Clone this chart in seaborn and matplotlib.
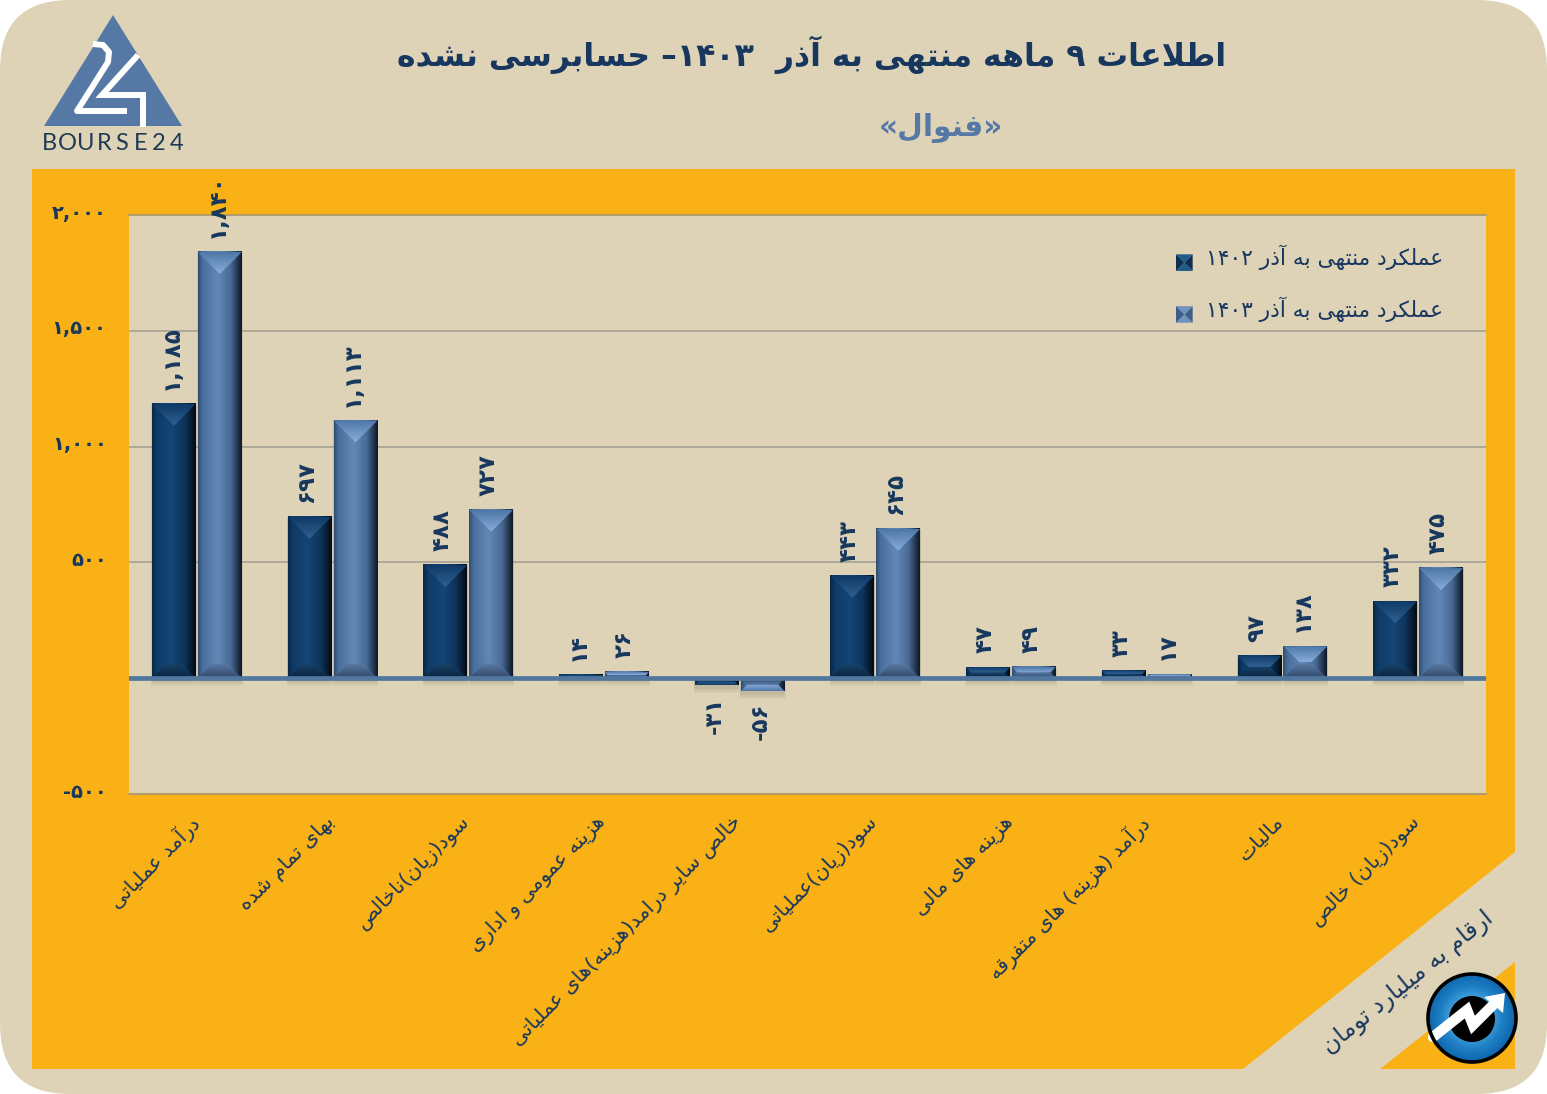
import numpy as np
import pandas as pd
import matplotlib
matplotlib.use('Agg')
import matplotlib.pyplot as plt
import matplotlib.patches as mpatches
from matplotlib.colors import LinearSegmentedColormap
from matplotlib.legend_handler import HandlerBase
from matplotlib.transforms import ScaledTranslation
import seaborn as sns

# Data
categories = ['درآمد عملیاتی', 'بهای تمام شده', 'سود(زیان)ناخالص', 'هزینه عمومی و اداری',
              'خالص سایر درامد(هزینه)های عملیاتی', 'سود(زیان)عملیاتی', 'هزینه های مالی',
              'درآمد (هزینه) های متفرقه', 'مالیات', 'سود(زیان) خالص']
values_1402 = [1185, 697, 488, 14, -31, 443, 47, 33, 97, 332]
values_1403 = [1840, 1113, 727, 26, -56, 645, 49, 17, 138, 475]
series_names = ['عملکرد منتهی به آذر ۱۴۰۲', 'عملکرد منتهی به آذر ۱۴۰۳']
y_ticks = [-500, 0, 500, 1000, 1500, 2000]
title = 'اطلاعات ۹ ماهه منتهی به آذر  ۱۴۰۳– حسابرسی نشده'
subtitle = '«فنوال»'
unit_note = 'ارقام به میلیارد تومان'

BEIGE = '#dfd3b7'
ORANGE = '#f9b116'
NAVY = '#17375e'
BLUE = '#5578a5'

# matplotlib has no arabic shaping, so map the letters to presentation forms
FORMS = {
    'ا': (0xFE8D, 0xFE8E), 'آ': (0xFE81, 0xFE82), 'د': (0xFEA9, 0xFEAA), 'ذ': (0xFEAB, 0xFEAC),
    'ر': (0xFEAD, 0xFEAE), 'ز': (0xFEAF, 0xFEB0), 'ژ': (0xFB8A, 0xFB8B), 'و': (0xFEED, 0xFEEE),
    'ب': (0xFE8F, 0xFE90, 0xFE91, 0xFE92), 'پ': (0xFB56, 0xFB57, 0xFB58, 0xFB59),
    'ت': (0xFE95, 0xFE96, 0xFE97, 0xFE98), 'ج': (0xFE9D, 0xFE9E, 0xFE9F, 0xFEA0),
    'ح': (0xFEA1, 0xFEA2, 0xFEA3, 0xFEA4), 'خ': (0xFEA5, 0xFEA6, 0xFEA7, 0xFEA8),
    'س': (0xFEB1, 0xFEB2, 0xFEB3, 0xFEB4), 'ش': (0xFEB5, 0xFEB6, 0xFEB7, 0xFEB8),
    'ص': (0xFEB9, 0xFEBA, 0xFEBB, 0xFEBC), 'ط': (0xFEC1, 0xFEC2, 0xFEC3, 0xFEC4),
    'ع': (0xFEC9, 0xFECA, 0xFECB, 0xFECC), 'ف': (0xFED1, 0xFED2, 0xFED3, 0xFED4),
    'ق': (0xFED5, 0xFED6, 0xFED7, 0xFED8), 'ک': (0xFB8E, 0xFB8F, 0xFB90, 0xFB91),
    'ل': (0xFEDD, 0xFEDE, 0xFEDF, 0xFEE0), 'م': (0xFEE1, 0xFEE2, 0xFEE3, 0xFEE4),
    'ن': (0xFEE5, 0xFEE6, 0xFEE7, 0xFEE8), 'ه': (0xFEE9, 0xFEEA, 0xFEEB, 0xFEEC),
    'ی': (0xFBFC, 0xFBFD, 0xFBFE, 0xFBFF),
}
MIRROR = str.maketrans('()«»', ')(»«')
DIGITS = '۰۱۲۳۴۵۶۷۸۹'


def shape(text):
    text = text.replace('لا', '\uFFF0')
    out = []
    for i, ch in enumerate(text):
        prev = text[i - 1] if i else ''
        nxt = text[i + 1] if i + 1 < len(text) else ''
        joins_prev = prev in FORMS and len(FORMS[prev]) == 4
        if ch == '\uFFF0':
            out.append(chr(0xFEFC if joins_prev else 0xFEFB))
        elif ch in FORMS:
            f = FORMS[ch]
            joins_next = len(f) == 4 and (nxt in FORMS or nxt == '\uFFF0')
            if len(f) == 2:
                out.append(chr(f[1] if joins_prev else f[0]))
            elif joins_prev and joins_next:
                out.append(chr(f[3]))
            elif joins_prev:
                out.append(chr(f[1]))
            elif joins_next:
                out.append(chr(f[2]))
            else:
                out.append(chr(f[0]))
        else:
            out.append(ch)
    # visual order: everything reversed, digit runs put back
    res = []
    run = ''
    for ch in reversed(out):
        if ch in DIGITS:
            run = ch + run
        else:
            res.append(run)
            run = ''
            res.append(ch)
    res.append(run)
    return ''.join(res).translate(MIRROR)


def fa_num(v):
    s = f'{v:,}'
    return ''.join(DIGITS[int(c)] if c.isdigit() else c for c in s)


sns.set_theme(style='white')
plt.rcParams['font.family'] = ['DejaVu Sans']

W, H = 1547, 1094
fig = plt.figure(figsize=(W / 100, H / 100), dpi=100, facecolor='white')

# panel behind the chart, in pixel coordinates
bg = fig.add_axes([0, 0, 1, 1], zorder=0)
bg.set_xlim(0, W)
bg.set_ylim(H, 0)
bg.axis('off')
bg.add_patch(mpatches.FancyBboxPatch((70, 70), W - 140, H - 140, boxstyle='round,pad=70,rounding_size=70',
                                     fc=BEIGE, ec='none'))
bg.add_patch(mpatches.Polygon([(32, 169), (1515, 169), (1515, 852), (1243, 1069), (32, 1069)], fc=ORANGE, ec='none'))
bg.add_patch(mpatches.Polygon([(1515, 962), (1515, 1069), (1380, 1069)], fc=ORANGE, ec='none'))

# main chart
df = pd.DataFrame({
    'category': categories * 2,
    'value': values_1402 + values_1403,
    'series': [series_names[0]] * len(categories) + [series_names[1]] * len(categories),
})
ax = fig.add_axes([129 / W, 1 - 794 / H, (1486 - 129) / W, (794 - 215) / H], zorder=2)
ax.set_facecolor(BEIGE)
sns.barplot(data=df, x='category', y='value', hue='series', order=categories, hue_order=series_names,
            palette=['#123a66', '#5a7ea9'], width=0.677, gap=0.043, legend=False, saturation=1, ax=ax, zorder=3,
            errorbar=None, linewidth=0, edgecolor='none')
ax.set_xlim(-0.5, 9.5)
ax.set_ylim(-500, 2000)
ax.set_xlabel('')
ax.set_ylabel('')
ax.set_yticks(y_ticks)
ax.set_yticklabels([fa_num(v) if v != 0 else '' for v in y_ticks], fontsize=14, fontweight='bold', color=NAVY)
ax.tick_params(axis='y', length=0, pad=16)
for lab in ax.get_yticklabels():
    lab.set_transform(lab.get_transform() + ScaledTranslation(0, 4 / 100, fig.dpi_scale_trans))
ax.set_xticks(range(len(categories)))
ax.set_xticklabels([shape(c) for c in categories], rotation=45, ha='right', va='top', rotation_mode='anchor',
                   fontsize=14.7, color=NAVY)
ax.tick_params(axis='x', length=0, pad=13)
for lab in ax.get_xticklabels():
    lab.set_transform(lab.get_transform() + ScaledTranslation(-8 / 100, 0, fig.dpi_scale_trans))
ax.yaxis.grid(True, color='#a9a496', lw=1.3, zorder=1)
ax.set_axisbelow(True)
sns.despine(ax=ax, left=True, right=True, top=True, bottom=True)
ax.axhline(0, color='#52779f', lw=3.4, zorder=4)
ax.axhline(2000, color='#b39c6b', lw=1.5, zorder=1, clip_on=False)
ax.axhline(-500, color='#b39c6b', lw=1.5, zorder=1, clip_on=False)

# gradient + bevel for the bars, on top of the bars seaborn made
bar_styles = [
    dict(stops=['#0a2746', '#0f3a66', '#134676', '#0e3359', '#040b14'],
         outer=['#0f3a68', '#2f6191'], base=['#0a2440', '#184268']),
    dict(stops=['#2f4e75', '#4a6f9d', '#6388b6', '#486a95', '#0f1926'],
         outer=['#4f78a8', '#88acda'], base=['#32486a', '#5a7ca6']),
]
STOP_POS = [0, 0.1, 0.45, 0.75, 1]
bars = [p for p in ax.patches if p.get_width() > 0]
n = len(categories)
px_per_y = (794 - 215) / 2500
px_per_x = (1486 - 129) / 10


def chevron(x0, w, y_edge, y_inner, depth_x, colors):
    # bevel facet of a bar, shaded from its outer edge inwards
    poly = mpatches.Polygon([(x0, y_edge), (x0 + w, y_edge), (x0 + w - depth_x, y_inner), (x0 + depth_x, y_inner)],
                            transform=ax.transData)
    t = np.linspace(0, 1, 30) if y_edge > y_inner else np.linspace(1, 0, 30)
    cm = LinearSegmentedColormap.from_list('f', colors)
    im = ax.imshow(t[:, None], extent=(x0, x0 + w, min(y_edge, y_inner), max(y_edge, y_inner)), aspect='auto',
                   cmap=cm, vmin=0, vmax=1, zorder=3.4, origin='upper')
    im.set_clip_path(poly)


for i, bar in enumerate(bars):
    st = bar_styles[0 if i < n else 1]
    x0, w = bar.get_x(), bar.get_width()
    y0, h = bar.get_y(), bar.get_height()
    y_top, y_bot = max(y0, y0 + h), min(y0, y0 + h)
    hh = y_top - y_bot
    # soft shadow under and beside the bar
    for pad_x, pad_y, alpha in [(0.012, 32, 0.05), (0.009, 24, 0.07), (0.006, 16, 0.09)]:
        ax.add_patch(mpatches.Rectangle((x0 - pad_x * 0.4, y_bot - pad_y), w + pad_x, hh + pad_y, fc='#55503f',
                                        alpha=alpha, ec='none', zorder=2.6))
    cmap = LinearSegmentedColormap.from_list('b', list(zip(STOP_POS, st['stops'])))
    ax.imshow(np.linspace(0, 1, 80)[None, :], extent=(x0, x0 + w, y_bot, y_top), aspect='auto', cmap=cmap,
              zorder=3.2, vmin=0, vmax=1)
    w_px = w * px_per_x
    h_px = hh * px_per_y
    outer_px = min(w_px * 0.5, h_px * 0.5)
    base_px = min(w_px * 0.33, h_px * 0.5)
    outer_y, base_y = (y_top, y_bot) if y0 + h >= 0 and h >= 0 else (y_bot, y_top)
    sign = -1 if outer_y == y_top else 1
    chevron(x0, w, outer_y, outer_y + sign * outer_px / px_per_y, outer_px / px_per_x, st['outer'])
    chevron(x0, w, base_y, base_y - sign * base_px / px_per_y, base_px / px_per_x, st['base'])

ax.set_xlim(-0.5, 9.5)
ax.set_ylim(-500, 2000)

# value labels
all_values = values_1402 + values_1403
for i, bar in enumerate(bars):
    v = all_values[i]
    xc = bar.get_x() + bar.get_width() / 2
    up = v >= 0
    ax.annotate(fa_num(v), (xc, v), xytext=(-2, 10 if up else -8), textcoords='offset points',
                rotation=90, ha='center', va='bottom' if up else 'top', fontsize=16.5, fontweight='bold', color=NAVY,
                annotation_clip=False, zorder=6)


# legend with small bevelled squares
class BevelHandler(HandlerBase):
    def __init__(self, dark, light):
        super().__init__()
        self.dark, self.light = dark, light

    def create_artists(self, legend, orig, xd, yd, w, h, fs, trans):
        x0, y0 = -xd, -yd - 4
        s = 12
        c = (x0 + s / 2, y0 + s / 2)
        a, b, cc, d = (x0, y0), (x0 + s, y0), (x0 + s, y0 + s), (x0, y0 + s)
        return [
            mpatches.Polygon([a, b, c], fc=self.light, ec='none', transform=trans),
            mpatches.Polygon([b, cc, c], fc=self.dark, ec='none', transform=trans),
            mpatches.Polygon([cc, d, c], fc=self.light, ec='none', transform=trans),
            mpatches.Polygon([d, a, c], fc=self.dark, ec='none', transform=trans),
        ]


h1 = mpatches.Patch(label=shape(series_names[0]))
h2 = mpatches.Patch(label=shape(series_names[1]))
ax.legend(handles=[h1, h2], loc='upper left', bbox_to_anchor=((1176 - 129) / 1357, (794 - 245) / 579), frameon=False,
          prop=dict(size=15.7), labelcolor=NAVY, labelspacing=1.21, handlelength=0.76, handletextpad=0.6, borderpad=0,
          borderaxespad=0,
          handler_map={h1: BevelHandler('#0e2f52', '#1f5c8c'), h2: BevelHandler('#3c5f8a', '#6f93be')})

# titles and footnote on a top overlay, also pixel coordinates
top = fig.add_axes([0, 0, 1, 1], zorder=5)
top.set_xlim(0, W)
top.set_ylim(H, 0)
top.axis('off')
top.text(812, 55, shape(title), ha='center', va='center', fontsize=22.7, fontweight='bold', color=NAVY)
top.text(941, 128, shape(subtitle), ha='center', va='center', fontsize=21.3, fontweight='bold', color=BLUE)
top.text(1408, 983, shape(unit_note), ha='center', va='center', rotation=39, rotation_mode='anchor', fontsize=17,
         color=NAVY)

# logo
top.add_patch(mpatches.Polygon([(113, 15), (182, 126), (44, 126)], fc=BLUE, ec='none'))
top.plot([93, 103, 109, 108, 77, 127], [44, 45, 52, 62, 111, 111], color='white', lw=4.3, solid_joinstyle='round',
         solid_capstyle='butt')
top.plot([138, 102, 143, 143], [55, 95, 95, 127], color='white', lw=4.3, solid_joinstyle='miter',
         solid_capstyle='butt')
for ch, x in zip('BOURSE24', np.linspace(49, 177, 8)):
    top.text(x, 144, ch, ha='center', va='center', fontsize=17, color='#1f3a55', family='Lato')

# round icon in the corner
yy, xx = np.mgrid[-1:1:200j, -1:1:200j]
rr = np.hypot(xx, yy)
blue_map = LinearSegmentedColormap.from_list('r', ['#dff0fb', '#49a8e0', '#1f7fc4', '#0d66ad'])
img = top.imshow(rr, extent=(1427, 1516, 1062, 973), cmap=blue_map, vmin=0.1, vmax=1, zorder=6, aspect='auto')
circ = mpatches.Circle((1472, 1018), 44, fc='none', ec='black', lw=2.6, zorder=8)
top.add_patch(circ)
img.set_clip_path(circ)
top.add_patch(mpatches.Circle((1472, 1019), 23, fc='black', ec='none', zorder=6.5))
top.plot([1433, 1467, 1473, 1497], [1037, 1010, 1025, 1001], color='white', lw=7.5, solid_joinstyle='miter', zorder=7)
top.add_patch(mpatches.Polygon([(1505, 993), (1484, 997), (1503, 1013)], fc='white', ec='none', zorder=7))
top.set_xlim(0, W)
top.set_ylim(H, 0)

fig.savefig('out.png', dpi=100, facecolor='white')
